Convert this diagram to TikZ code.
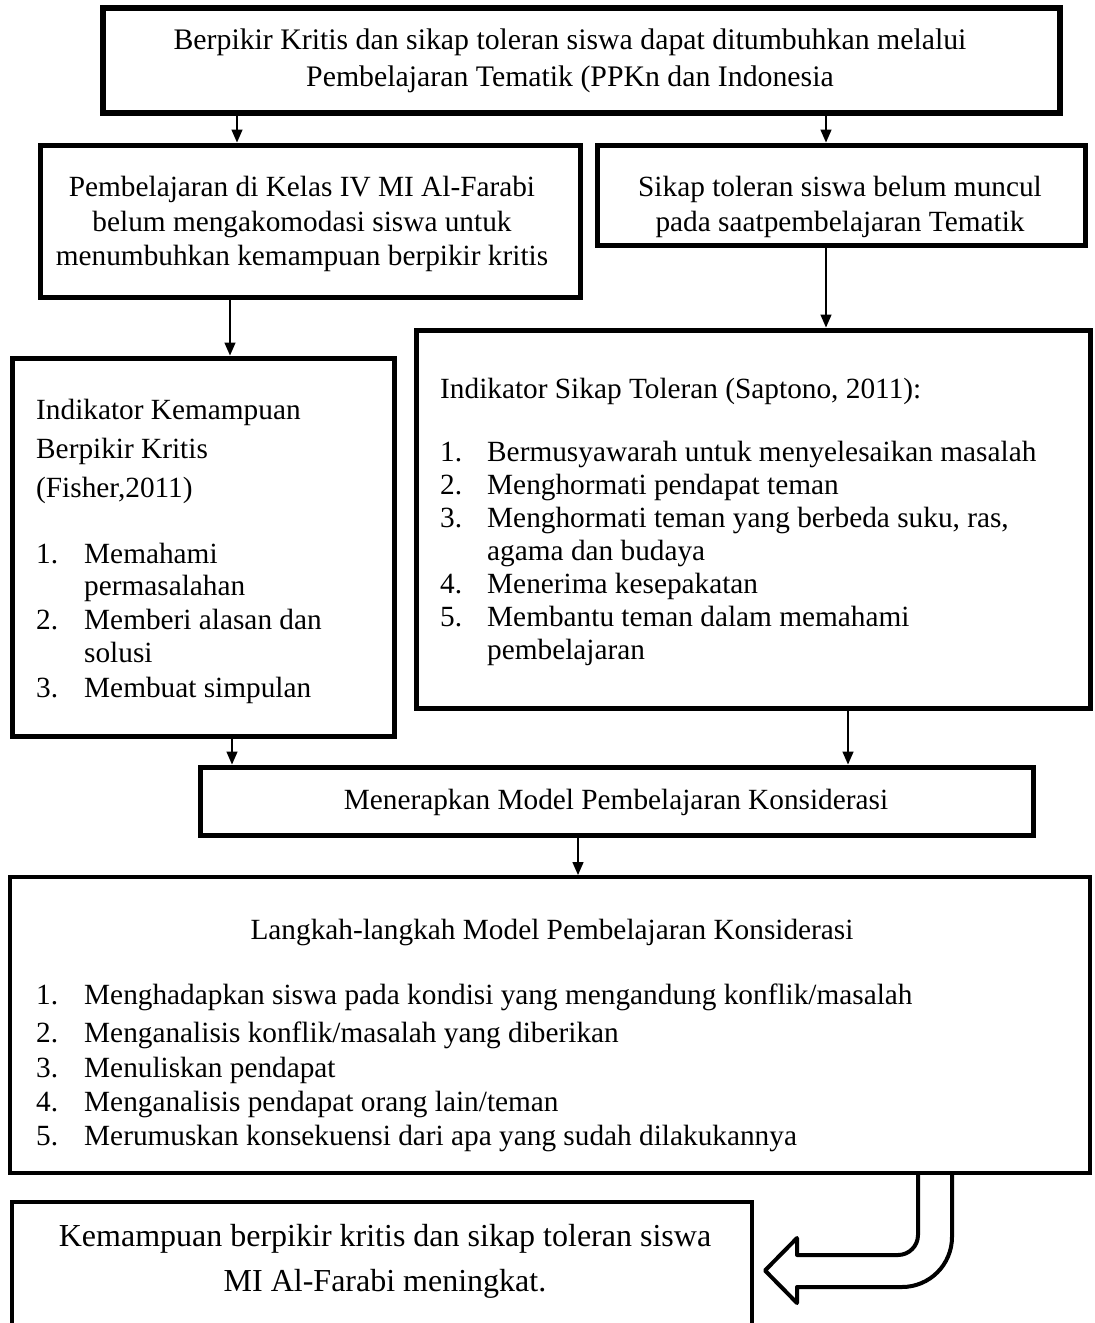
\documentclass[tikz,border=0pt]{standalone}
\usepackage{fontspec}
\setmainfont{Liberation Serif}
\usetikzlibrary{arrows.meta}
\newcommand\dfs{\fontsize{29.3}{33}\selectfont}
\newcommand\tfs{\fontsize{29.8}{33}\selectfont}
\newcommand\bfsz{\fontsize{32}{36}\selectfont}
\begin{document}
\begin{tikzpicture}[x=1pt,y=-1pt,
  box/.style={draw=black, line width=5pt, fill=white, inner sep=0pt, rectangle},
  txt/.style={font=\dfs, inner sep=0pt, anchor=base},
  ltxt/.style={font=\dfs, inner sep=0pt, anchor=base west},
  arr/.style={line width=1.5pt, -{Triangle[length=13pt,width=11pt]}},
  uarrow/.style={draw=black, line width=4pt, fill=white, line join=round}]
\useasboundingbox (0,0) rectangle (1095,1323);
\clip (0,0) rectangle (1095,1323);
\fill[white] (0,0) rectangle (1095,1323);

% boxes
\node[box, line width=6pt, minimum width=957pt, minimum height=105pt] (b1) at (581.5,60.5) {};
\node[box, minimum width=540pt, minimum height=152pt] (b2) at (310,221) {};
\node[box, minimum width=488pt, minimum height=100pt] (b3) at (841,195) {};
\node[box, minimum width=382pt, minimum height=378pt] (b4) at (203,547) {};
\node[box, minimum width=674pt, minimum height=378pt] (b5) at (753,519) {};
\node[box, minimum width=833pt, minimum height=68pt] (b6) at (616.5,801) {};
\node[box, line width=4pt, minimum width=1080pt, minimum height=296pt] (b7) at (550,1025) {};
\node[box, line width=4pt, minimum width=740pt, minimum height=148pt] (b8) at (382,1276) {};

% box 1 text
\node[txt, font=\tfs] (t1a) at (570,49) {Berpikir Kritis dan sikap toleran siswa dapat ditumbuhkan melalui};
\node[txt, font=\tfs] (t1b) at (570,86) {Pembelajaran Tematik (PPKn dan Indonesia};
% box 2 text
\node[txt] (t2a) at (302,196) {Pembelajaran di Kelas IV MI Al-Farabi};
\node[txt] (t2b) at (302,231) {belum mengakomodasi siswa untuk};
\node[txt] (t2c) at (302,265) {menumbuhkan kemampuan berpikir kritis};
% box 3 text
\node[txt] (t3a) at (840,196) {Sikap toleran siswa belum muncul};
\node[txt] (t3b) at (840,231) {pada saatpembelajaran Tematik};
% box 4 text
\node[ltxt] (t4a) at (36,419) {Indikator Kemampuan};
\node[ltxt] (t4b) at (36,458) {Berpikir Kritis};
\node[ltxt] (t4c) at (36,497) {(Fisher,2011)};
\node[ltxt] (t4d) at (36,563) {\makebox[48pt][l]{1.}Memahami};
\node[ltxt] (t4e) at (36,595) {\hspace*{48pt}permasalahan};
\node[ltxt] (t4f) at (36,629) {\makebox[48pt][l]{2.}Memberi alasan dan};
\node[ltxt] (t4g) at (36,662) {\hspace*{48pt}solusi};
\node[ltxt] (t4h) at (36,697) {\makebox[48pt][l]{3.}Membuat simpulan};
% box 5 text
\node[ltxt] (t5a) at (440,398) {Indikator Sikap Toleran (Saptono, 2011):};
\node[ltxt] (t5b) at (440,461) {\makebox[47pt][l]{1.}Bermusyawarah untuk menyelesaikan masalah};
\node[ltxt] (t5c) at (440,494) {\makebox[47pt][l]{2.}Menghormati pendapat teman};
\node[ltxt] (t5d) at (440,527) {\makebox[47pt][l]{3.}Menghormati teman yang berbeda suku, ras,};
\node[ltxt] (t5e) at (440,560) {\hspace*{47pt}agama dan budaya};
\node[ltxt] (t5f) at (440,593) {\makebox[47pt][l]{4.}Menerima kesepakatan};
\node[ltxt] (t5g) at (440,626) {\makebox[47pt][l]{5.}Membantu teman dalam memahami};
\node[ltxt] (t5h) at (440,659) {\hspace*{47pt}pembelajaran};
% box 6 text
\node[txt] (t6) at (616,809) {Menerapkan Model Pembelajaran Konsiderasi};
% box 7 text
\node[txt] (t7a) at (552,939) {Langkah-langkah Model Pembelajaran Konsiderasi};
\node[ltxt] (t7b) at (36,1004) {\makebox[48pt][l]{1.}Menghadapkan siswa pada kondisi yang mengandung konflik/masalah};
\node[ltxt] (t7c) at (36,1042) {\makebox[48pt][l]{2.}Menganalisis konflik/masalah yang diberikan};
\node[ltxt] (t7d) at (36,1077) {\makebox[48pt][l]{3.}Menuliskan pendapat};
\node[ltxt] (t7e) at (36,1111) {\makebox[48pt][l]{4.}Menganalisis pendapat orang lain/teman};
\node[ltxt] (t7f) at (36,1145) {\makebox[48pt][l]{5.}Merumuskan konsekuensi dari apa yang sudah dilakukannya};
% box 8 text
\node[txt, font=\bfsz] (t8a) at (385,1246) {Kemampuan berpikir kritis dan sikap toleran siswa};
\node[txt, font=\bfsz] (t8b) at (385,1291) {MI Al-Farabi meningkat.};

% connectors
\draw[arr] (237,0 |- b1.south) -- (237,0 |- b2.north);
\draw[arr] (826,0 |- b1.south) -- (826,0 |- b3.north);
\draw[arr] (230,0 |- b2.south) -- (230,0 |- b4.north);
\draw[arr] (826,0 |- b3.south) -- (826,0 |- b5.north);
\draw[arr] (232,0 |- b4.south) -- (232,0 |- b6.north);
\draw[arr] (848,0 |- b5.south) -- (848,0 |- b6.north);
\draw[arr] (578,0 |- b6.south) -- (578,0 |- b7.north);

% U-turn block arrow
\coordinate (us) at (918,0 |- b7.south);
\coordinate (ue) at (952,0 |- b7.south);
\draw[uarrow] (us) -- (918,1235) .. controls (918,1246) and (909,1255) .. (898,1255)
  -- (797,1255) -- (797,1238) -- (765,1270.5) -- (797,1303) -- (797,1287)
  -- (902,1287) .. controls (929.6,1287) and (952,1264.6) .. (952,1237) -- (ue);
\end{tikzpicture}
\end{document}
